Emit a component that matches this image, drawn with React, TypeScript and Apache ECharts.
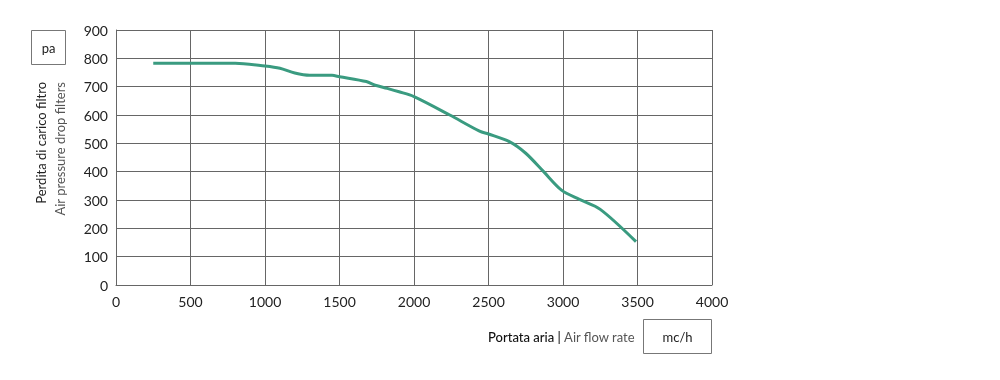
import React, { useEffect, useRef } from "react";
import * as echarts from "echarts";

const flowRate = [250, 500, 800, 1000, 1100, 1200, 1300, 1450, 1500, 1680, 1740, 1820, 1900, 2000, 2240, 2440, 2500, 2640, 2750, 2870, 2990, 3110, 3250, 3490];
const pressureDrop = [783, 783, 783, 773, 765, 748, 740, 740, 735, 718, 705, 694, 682, 665, 600, 543, 533, 506, 465, 400, 335, 302, 267, 153];
const yTitle1 = "Perdita di carico filtro";
const yTitle2 = "Air pressure drop filters";
const xTitleA = "Portata aria |";
const xTitleB = "Air flow rate";
const yUnit = "pa";
const xUnit = "mc/h";

export default function App() {
  const ref = useRef<HTMLDivElement>(null);
  useEffect(() => {
    if (!ref.current) return;
    const chart = echarts.init(ref.current, undefined, { renderer: "svg" });
    const font = "Lato, 'Noto Sans', sans-serif";
    chart.setOption({
      animation: false,
      grid: { left: 116, right: 288, top: 30, bottom: 95 },
      xAxis: {
        type: "value",
        min: 0,
        max: 4000,
        interval: 500,
        axisLine: { show: true, lineStyle: { color: "#666", width: 1 } },
        axisTick: { show: false },
        splitLine: { show: true, lineStyle: { color: "#666", width: 1 } },
        axisLabel: { color: "#222", fontSize: 14, fontFamily: font, margin: 9, formatter: (v: number) => String(v) },
      },
      yAxis: {
        type: "value",
        min: 0,
        max: 900,
        interval: 100,
        axisLine: { show: true, lineStyle: { color: "#666", width: 1 } },
        axisTick: { show: false },
        splitLine: { show: true, lineStyle: { color: "#666", width: 1 } },
        axisLabel: { color: "#222", fontSize: 14, fontFamily: font, margin: 8, formatter: (v: number) => String(v) },
      },
      series: [
        {
          type: "line",
          data: flowRate.map((x, i) => [x, pressureDrop[i]]),
          showSymbol: false,
          smooth: 0.3,
          lineStyle: { color: "#3a9b80", width: 3 },
        },
      ],
      graphic: [
        {
          type: "rect",
          shape: { x: 31.5, y: 30.5, width: 34, height: 34 },
          style: { fill: "#fff", stroke: "#777", lineWidth: 1 },
        },
        {
          type: "text",
          x: 48.5,
          y: 47.5,
          style: { text: yUnit, fill: "#222", font: `13px ${font}`, textAlign: "center", textVerticalAlign: "middle" },
        },
        {
          type: "text",
          x: 41,
          y: 82,
          rotation: Math.PI / 2,
          style: { text: yTitle1, fill: "#222", font: `13px ${font}`, textAlign: "right", textVerticalAlign: "middle" },
        },
        {
          type: "text",
          x: 60,
          y: 82,
          rotation: Math.PI / 2,
          style: { text: yTitle2, fill: "#555", font: `13px ${font}`, textAlign: "right", textVerticalAlign: "middle" },
        },
        {
          type: "rect",
          shape: { x: 643.5, y: 319.5, width: 68, height: 34 },
          style: { fill: "#fff", stroke: "#777", lineWidth: 1 },
        },
        {
          type: "text",
          x: 677.5,
          y: 336.5,
          style: { text: xUnit, fill: "#222", font: `13px ${font}`, textAlign: "center", textVerticalAlign: "middle" },
        },
        {
          type: "text",
          x: 488,
          y: 337,
          style: {
            text: `{a|${xTitleA}} {b|${xTitleB}}`,
            textAlign: "left",
            textVerticalAlign: "middle",
            rich: {
              a: { fill: "#111", fontSize: 13, fontFamily: font, fontWeight: 500 },
              b: { fill: "#555", fontSize: 13, fontFamily: font },
            },
          },
        },
      ],
    });
    return () => chart.dispose();
  }, []);
  return <div ref={ref} style={{ position: "fixed", left: 0, top: 0, width: 1000, height: 380 }} />;
}
